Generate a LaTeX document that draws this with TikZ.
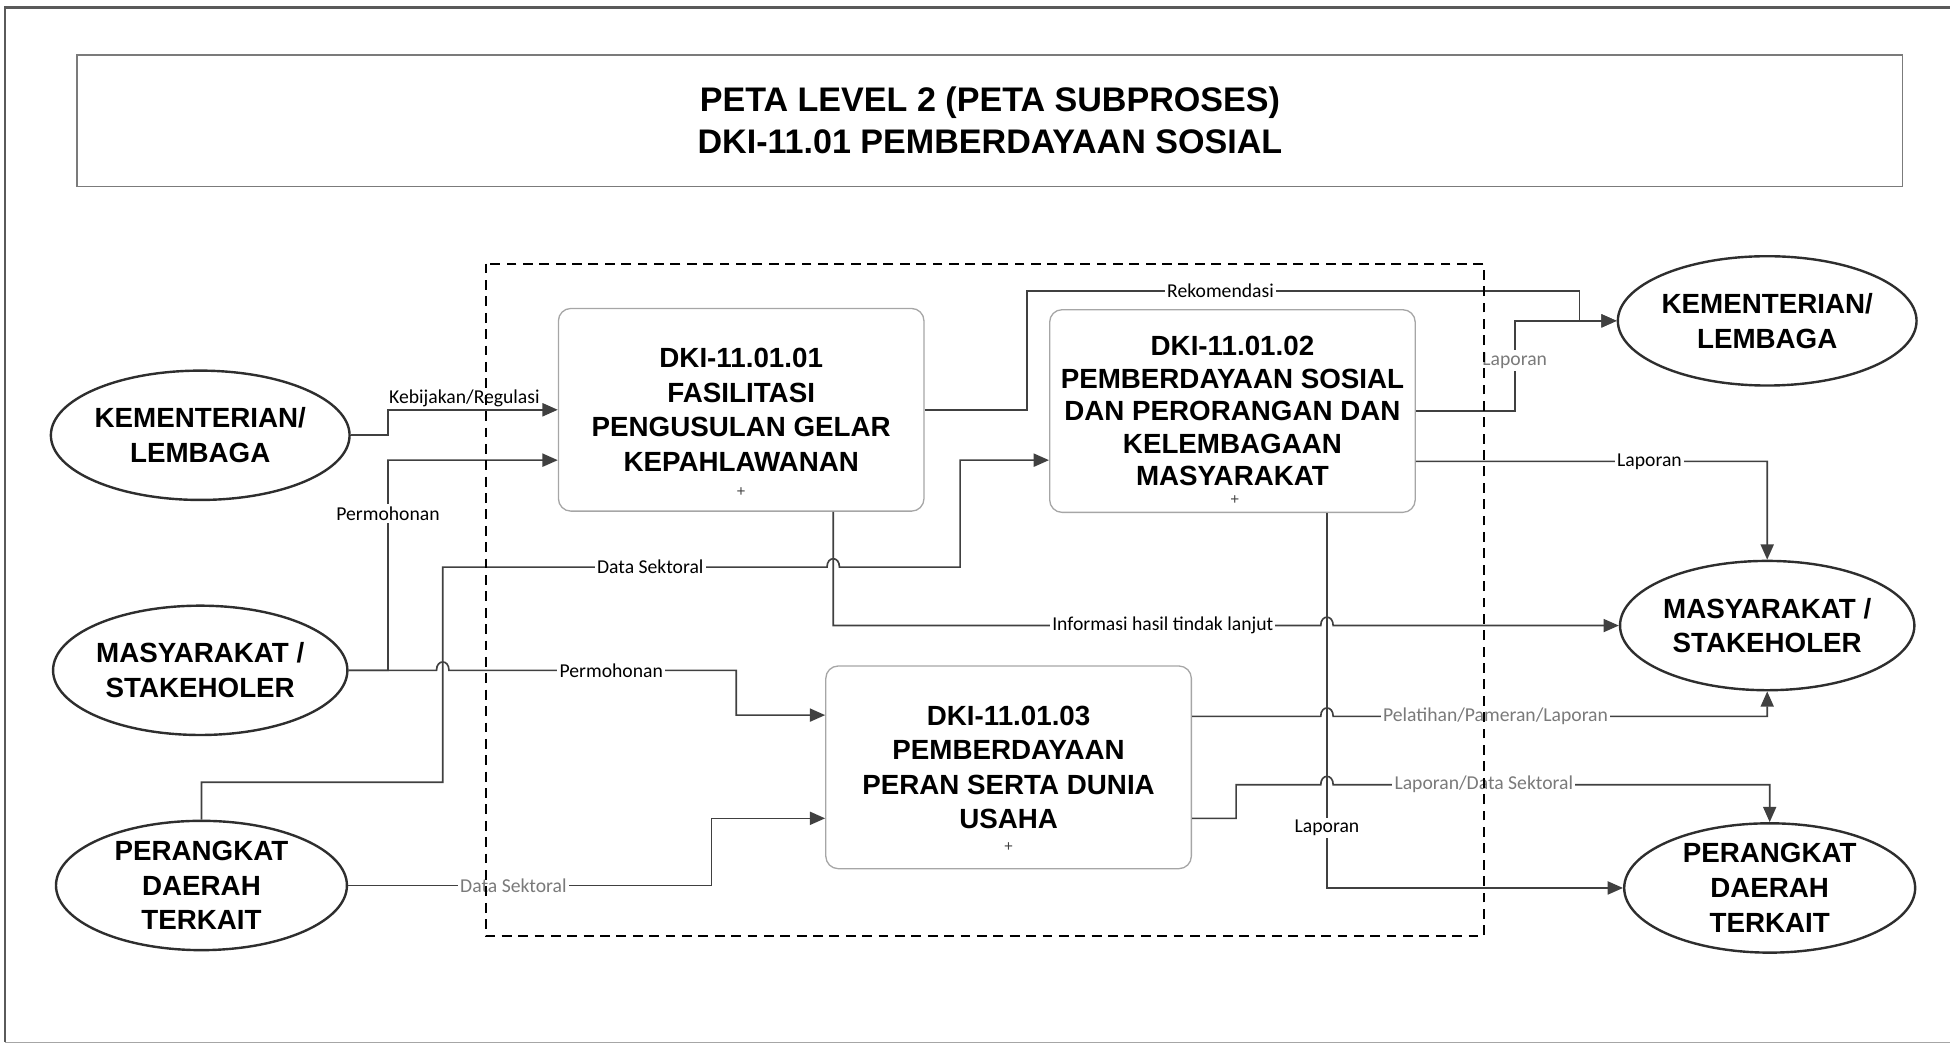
\documentclass[tikz,border=0pt]{standalone}
\usepackage{fontspec}
\setmainfont{Liberation Sans}
\newfontfamily\lblfont{Carlito}
\usepackage{tikz}
\usetikzlibrary{arrows.meta, positioning, calc, shapes.geometric}
\definecolor{mLine}{HTML}{404040}
\definecolor{mEdge}{HTML}{2E2E2E}
\definecolor{mBox}{HTML}{A6A6A6}
\definecolor{mLabel}{HTML}{7A7A7A}
\definecolor{mFrame}{HTML}{5A5A5A}

\begin{document}
\begin{tikzpicture}[x=0.02cm, y=-0.02cm,
    actor/.style={ellipse, draw=mEdge, line width=1.1pt, minimum width=4.68cm, minimum height=2.08cm, inner sep=0pt, align=center, font=\bfseries\fontsize{12.7}{15.9}\selectfont},
    subproc/.style={rectangle, rounded corners=0.2cm, draw=mBox, line width=0.6pt, minimum width=5.88cm, minimum height=3.26cm, inner sep=0pt, align=center, font=\bfseries\fontsize{12.7}{15.8}\selectfont},
    flow/.style={draw=mLine, line width=0.75pt},
    arr/.style={flow, -{Triangle[length=7pt, width=6pt]}},
    lbl/.style={font=\lblfont\fontsize{9}{10}\selectfont, fill=white, inner sep=1pt, text=black},
    lblgray/.style={lbl, text=mLabel},
    plusmark/.style={font=\fontsize{7}{8}\selectfont, text=mLine, inner sep=0pt}]
    \useasboundingbox (0,0) rectangle (1568,840);
    \draw[mFrame, line width=1pt] (1568,6) -- (4,6) -- (4,838);
    \draw[mBox, line width=0.6pt] (4,838) -- (1568,838);
    \node[draw=mFrame!80, line width=0.8pt, minimum width=29.36cm, minimum height=2.12cm, align=center, font=\bfseries\fontsize{15.6}{19.3}\selectfont] (title) at (796,97) {PETA LEVEL 2 (PETA SUBPROSES)\\DKI-11.01 PEMBERDAYAAN SOSIAL};
    \node[actor] (kl) at (161,350) {KEMENTERIAN/\\LEMBAGA};
    \node[actor] (ml) at (161,539) {MASYARAKAT /\\STAKEHOLER};
    \node[actor] (pl) at (162,712) {PERANGKAT\\DAERAH\\TERKAIT};
    \node[actor] (kr) at (1421,258) {KEMENTERIAN/\\LEMBAGA};
    \node[actor] (mr) at (1421,503) {MASYARAKAT /\\STAKEHOLER};
    \node[actor] (pr) at (1423,714) {PERANGKAT\\DAERAH\\TERKAIT};
    \node[subproc] (p1) at (596,329.5) {DKI-11.01.01\\FASILITASI\\PENGUSULAN GELAR\\KEPAHLAWANAN};
    \node[subproc, font=\bfseries\fontsize{12.7}{14.9}\selectfont] (p2) at (991,330.5) {DKI-11.01.02\\PEMBERDAYAAN SOSIAL\\DAN PERORANGAN DAN\\KELEMBAGAAN\\MASYARAKAT};
    \node[subproc] (p3) at (811,617) {DKI-11.01.03\\PEMBERDAYAAN\\PERAN SERTA DUNIA\\USAHA};
    \node[plusmark] (p1mark) at (596,396) {+};
    \node[plusmark] (p2mark) at (993,402) {+};
    \node[plusmark] (p3mark) at (811,681) {+};
    \draw[arr] (kl.east) -- (312,350) -- (312,329.5) -- node[lbl, above, pos=0.45, fill=none] {Kebijakan/Regulasi} (p1.west);
    \draw[arr] (ml.east) -- (312,539) -- node[lbl, pos=0.746] {Permohonan} (312,370) -- ($(p1.west)+(0,40.5)$);
    \draw[arr] (ml.east) -- (351,539) .. controls (351,530) and (361,530) .. (361,539) -- node[lbl, pos=0.565] {Permohonan} (592,539) -- (592,575) -- ($(p3.west)+(0,-42)$);
    \draw[arr] (pl.north) -- (162,629) -- (356,629) -- (356,456) -- node[lbl, pos=0.54] {Data Sektoral} (665,456) .. controls (665,447) and (675,447) .. (675,456) -- (772,456) -- (772,370) -- ($(p2.west)+(0,39.5)$);
    \draw[arr] (pl.east) -- node[lblgray, pos=0.455] {Data Sektoral} (572,712) -- (572,658) -- ($(p3.west)+(0,41)$);
    \draw[arr] (p1.east) -- (826,329.5) -- (826,234) -- node[lbl, pos=0.35] {Rekomendasi} (1270,234) -- (1270,258) -- (kr.west);
    \draw[arr] (p2.east) -- (1218,330.5) -- node[lblgray, pos=0.56] {Laporan} (1218,258) -- (kr.west);
    \draw[arr] ($(p2.east)+(0,40.5)$) -- node[lbl, pos=0.665] {Laporan} (1421,371) -- (mr.north);
    \draw[arr] ($(p1.south)+(74,0)$) -- (670,503) -- node[lbl, pos=0.676] {Informasi hasil tindak lanjut} (1062,503) .. controls (1062,494) and (1072,494) .. (1072,503) -- (mr.west);
    \draw[arr] ($(p3.east)+(0,-41)$) -- (1062,576) .. controls (1062,567) and (1072,567) .. (1072,576) -- node[lblgray, pos=0.374] {Pelatihan/Pameran/Laporan} (1421,576) -- (mr.south);
    \draw[arr] ($(p3.east)+(0,41)$) -- (994,658) -- (994,631) -- (1062,631) .. controls (1062,622) and (1072,622) .. (1072,631) -- node[lblgray, pos=0.345] {Laporan/Data Sektoral} (1423,631) -- (pr.north);
    \draw[arr] ($(p2.south)+(76,0)$) -- node[lbl, pos=0.84] {Laporan} (1067,714) -- (pr.west);
    \draw[black, line width=0.9pt, dash pattern=on 4.5pt off 3pt] (391,212) rectangle (1193,753);
  \end{tikzpicture}
\end{document}
